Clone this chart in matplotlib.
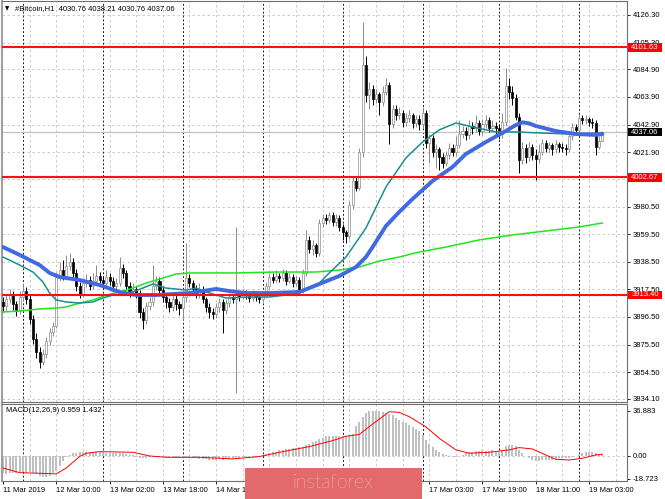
import numpy as np
import matplotlib
matplotlib.use("Agg")
import matplotlib.pyplot as plt
from matplotlib import patches, transforms

plt.rcParams["font.family"] = ["Liberation Sans", "DejaVu Sans"]

# --- Candles, H1 bars from 11 Mar 18:00 to 19 Mar 03:00 ---
opens = [
    3908, 3905, 3910, 3913, 3906, 3902, 3912, 3916, 3910, 3895,
    3880, 3870, 3862, 3868, 3878, 3885, 3890, 3927, 3932, 3928,
    3935, 3938, 3930, 3920, 3914, 3922, 3925, 3920, 3924, 3928,
    3925, 3922, 3927, 3924, 3920, 3922, 3934, 3930, 3920, 3916,
    3918, 3915, 3900, 3894, 3905, 3908, 3920, 3924, 3917, 3912,
    3908, 3904, 3910, 3906, 3903, 3912, 3926, 3922, 3918, 3914,
    3918, 3910, 3904, 3900, 3899, 3904, 3908, 3902, 3907, 3912,
    3910, 3914, 3912, 3915, 3913, 3911, 3914, 3912, 3910, 3913,
    3920, 3927, 3925, 3928, 3926, 3930, 3924, 3927, 3922, 3925,
    3917, 3930, 3955, 3948, 3951, 3945, 3968, 3972, 3970, 3974,
    3969, 3972, 3965, 3961, 3958, 3982, 4000, 3995, 4022, 4088,
    4065, 4070, 4062, 4066, 4060, 4068, 4073, 4043, 4055, 4050,
    4052, 4045, 4048, 4050, 4044, 4047, 4043, 4052, 4029, 4033,
    4022, 4024, 4018, 4014, 4020, 4025, 4022, 4027, 4036, 4038,
    4035, 4042, 4040, 4044, 4038, 4043, 4046, 4040, 4042, 4040,
    4036, 4045, 4072, 4068, 4063, 4049, 4016, 4025, 4018, 4026,
    4020, 4017, 4022, 4029, 4025, 4027, 4024, 4028, 4026, 4025,
    4024, 4034, 4041, 4039, 4048, 4046, 4047, 4045, 4044, 4026,
    4030.76,
]
closes = [
    3905, 3910, 3913, 3906, 3902, 3912, 3916, 3910, 3895, 3880,
    3870, 3862, 3868, 3878, 3885, 3890, 3927, 3932, 3928, 3935,
    3938, 3930, 3920, 3914, 3922, 3925, 3920, 3924, 3928, 3925,
    3922, 3927, 3924, 3920, 3922, 3934, 3930, 3920, 3916, 3918,
    3915, 3900, 3894, 3905, 3908, 3920, 3924, 3917, 3912, 3908,
    3904, 3910, 3906, 3903, 3912, 3926, 3922, 3918, 3914, 3918,
    3910, 3904, 3900, 3899, 3904, 3908, 3902, 3907, 3912, 3910,
    3914, 3912, 3915, 3913, 3911, 3914, 3912, 3910, 3913, 3920,
    3927, 3925, 3928, 3926, 3930, 3924, 3927, 3922, 3925, 3917,
    3930, 3955, 3948, 3951, 3945, 3968, 3972, 3970, 3974, 3969,
    3972, 3965, 3961, 3958, 3982, 4000, 3995, 4022, 4088, 4065,
    4070, 4062, 4066, 4060, 4068, 4073, 4043, 4055, 4050, 4052,
    4045, 4048, 4050, 4044, 4047, 4043, 4052, 4029, 4033, 4022,
    4024, 4018, 4014, 4020, 4025, 4022, 4027, 4036, 4038, 4035,
    4042, 4040, 4044, 4038, 4043, 4046, 4040, 4042, 4040, 4036,
    4045, 4072, 4068, 4063, 4049, 4016, 4025, 4018, 4026, 4020,
    4017, 4022, 4029, 4025, 4027, 4024, 4028, 4026, 4025, 4024,
    4034, 4041, 4039, 4048, 4046, 4047, 4045, 4044, 4026, 4030.76,
    4037.06,
]
highs = [
    3912, 3914, 3918, 3916, 3909, 3916, 3922, 3919, 3913, 3898,
    3884, 3874, 3872, 3881, 3888, 3893, 3931, 3938, 3940, 3944,
    3945, 3941, 3933, 3923, 3926, 3929, 3928, 3930, 3936, 3931,
    3928, 3932, 3930, 3927, 3926, 3942, 3937, 3932, 3923, 3922,
    3920, 3917, 3903, 3908, 3912, 3936, 3928, 3927, 3920, 3915,
    3911, 3913, 3913, 3909, 3915, 3953, 3929, 3925, 3921, 3922,
    3920, 3912, 3907, 3903, 3907, 3911, 3910, 3910, 3915, 3914,
    3965, 3916, 3918, 3917, 3915, 3917, 3916, 3914, 3916, 3923,
    3930, 3930, 3932, 3930, 3933, 3932, 3930, 3929, 3928, 3927,
    3933, 3963, 3958, 3955, 3953, 3971, 3975, 3975, 3976, 3976,
    3975, 3974, 3967, 3963, 3985, 4003, 4004, 4025, 4121, 4095,
    4075, 4073, 4070, 4068, 4072, 4078, 4075, 4058, 4058, 4056,
    4054, 4052, 4054, 4052, 4050, 4050, 4056, 4054, 4036, 4035,
    4028, 4026, 4021, 4023, 4029, 4028, 4034, 4046, 4042, 4041,
    4046, 4045, 4050, 4046, 4047, 4050, 4049, 4046, 4045, 4043,
    4052, 4086, 4078, 4072, 4066, 4052, 4030, 4028, 4030, 4028,
    4024, 4028, 4032, 4031, 4030, 4029, 4031, 4030, 4029, 4028,
    4037, 4044, 4043, 4051, 4050, 4050, 4049, 4048, 4046, 4034,
    4038.21,
]
lows = [
    3900, 3901, 3907, 3902, 3897, 3899, 3909, 3906, 3891, 3876,
    3865, 3858, 3860, 3865, 3875, 3882, 3888, 3924, 3925, 3925,
    3932, 3927, 3916, 3911, 3912, 3919, 3917, 3918, 3921, 3921,
    3918, 3920, 3921, 3916, 3917, 3920, 3926, 3917, 3912, 3913,
    3911, 3896, 3887, 3891, 3902, 3905, 3917, 3913, 3908, 3903,
    3900, 3901, 3902, 3898, 3894, 3908, 3919, 3914, 3911, 3911,
    3907, 3900, 3896, 3895, 3896, 3900, 3884, 3899, 3904, 3907,
    3839, 3909, 3910, 3910, 3908, 3909, 3909, 3907, 3908, 3911,
    3918, 3922, 3923, 3923, 3924, 3921, 3922, 3919, 3920, 3914,
    3915, 3928, 3945, 3944, 3942, 3943, 3965, 3967, 3968, 3966,
    3966, 3962, 3955, 3953, 3956, 3979, 3992, 3993, 4018, 4060,
    4055, 4058, 4059, 4050, 4057, 4065, 4028, 4040, 4046, 4047,
    4041, 4042, 4045, 4040, 4041, 4039, 4040, 4025, 4014, 4018,
    4010, 4008, 4010, 4011, 4017, 4019, 4019, 4025, 4033, 4031,
    4032, 4036, 4037, 4035, 4035, 4040, 4037, 4038, 4036, 4032,
    4033, 4042, 4062, 4058, 4046, 4006, 4013, 4014, 4015, 4016,
    4001, 4014, 4020, 4022, 4022, 4020, 4021, 4022, 4022, 4020,
    4022, 4031, 4035, 4037, 4043, 4043, 4042, 4040, 4020, 4024,
    4030.76,
]

# --- Moving averages (bar index, price) ---
slow_ma_bars = [0, 5, 11, 14, 17, 23, 29, 35, 40, 46, 56, 64, 68, 73, 80, 89, 95,
                101, 106, 109, 111, 115, 119, 123, 129, 135, 139, 145, 151, 154,
                156, 158, 160, 166, 172, 178, 180]
slow_ma_vals = [3949.7, 3943.7, 3936.0, 3930.0, 3926.9, 3924.6, 3920.8, 3915.5,
                3913.2, 3913.2, 3914.7, 3917.8, 3916.2, 3914.7, 3914.7, 3915.5,
                3921.6, 3927.7, 3934.5, 3942.1, 3949.7, 3965.7, 3976.4, 3986.3,
                4000.0, 4010.6, 4020.5, 4029.6, 4038.0, 4042.5, 4044.6, 4043.8,
                4041.8, 4038.0, 4035.7, 4035.0, 4035.7]
fast_ma_bars = [0, 5, 9, 12, 14, 16, 19, 23, 27, 30, 33, 36, 39, 42, 45, 49, 55,
                58, 61, 64, 67, 74, 80, 85, 89, 95, 98, 103, 109, 115, 121, 126,
                131, 136, 141, 148, 154, 161, 170, 180]
fast_ma_vals = [3942.1, 3936.0, 3930.7, 3923.1, 3914.7, 3909.4, 3907.9, 3907.1,
                3907.9, 3910.9, 3913.2, 3914.0, 3915.5, 3918.5, 3921.6, 3918.5,
                3917.0, 3918.5, 3915.5, 3913.2, 3910.9, 3911.7, 3911.7, 3913.2,
                3915.5, 3922.3, 3930.0, 3942.1, 3964.2, 3995.4, 4017.5, 4029.6,
                4038.8, 4044.1, 4041.1, 4037.3, 4037.3, 4036.5, 4035.7, 4036.5]
long_ma_bars = [0, 5, 11, 16, 19, 23, 27, 31, 35, 39, 43, 46, 49, 52, 56, 70, 82,
                94, 101, 107, 113, 119, 125, 133, 143, 153, 163, 173, 180]
long_ma_vals = [3900.3, 3901.0, 3902.6, 3903.3, 3904.1, 3907.1, 3909.4, 3913.2,
                3915.5, 3918.5, 3922.3, 3924.6, 3926.9, 3929.2, 3930.0, 3930.0,
                3930.7, 3930.7, 3932.2, 3934.5, 3939.1, 3942.1, 3945.9, 3949.7,
                3955.1, 3958.9, 3961.9, 3965.0, 3968.0]

# --- MACD(12,26,9) ---
macd_hist = [
    -14, -14.5, -14, -13.5, -14, -13, -13, -13.5, -13, -14,
    -15, -16.5, -17.5, -17, -16, -14, -12, -8, -4, -1,
    1, 2, 2.5, 3, 3.5, 3.5, 3.5, 3.5, 3.2, 3,
    3, 2.8, 2.5, 2.5, 2.2, 2.5, 2.2, 1.5, 1, 0.5,
    -0.5, -1.5, -2, -1.5, -1, -0.5, -0.8, -1, -1, -1,
    -1, -1, -1.2, -1.5, -1.5, -1, -1.5, -2, -2, -2.5,
    -2.5, -2.8, -3, -3, -3, -2.8, -3, -2.8, -2.5, -2.5,
    -2, -1.5, -1.2, -1, -0.8, -0.5, -0.5, 0, 0.5, 1.2,
    2, 3, 3.5, 4.5, 5, 5.5, 6, 6.2, 6.5, 7,
    7.5, 9, 10, 11, 12, 14, 15, 16, 16.5, 16.5,
    16.5, 16, 16, 16, 16.5, 18, 24, 28, 32, 35,
    36.5, 36.9, 36.9, 36.5, 36, 35, 34, 33, 31, 29.5,
    28, 27, 25, 23.5, 22, 20, 17, 13, 10, 7.5,
    5, 3, 1.5, 0.5, -0.5, -1, -0.5, 0, 1, 2,
    3, 3.5, 4, 4, 4.5, 4, 4, 4.5, 4, 3.5,
    5, 8, 9, 9, 8, 5, 2, 0, -2, -3,
    -4, -4, -3.5, -3, -3, -3, -2.5, -2, -2, -2,
    -1.5, -1, 0, 1, 2.5, 3, 3.5, 3, 2, 1.2,
    0.959,
]
signal_bars = [0, 5, 11, 16, 19, 23, 25, 29, 39, 44, 49, 59, 69, 77, 84, 92, 99,
               103, 107, 111, 116, 119, 122, 127, 131, 136, 140, 146, 152, 155,
               159, 163, 166, 170, 174, 178, 180]
signal_vals = [-9.8, -13.6, -14.1, -14.6, -9.8, -0.5, 2.2, 3.5, 3.0, 0.0, -1.1,
               -1.1, -2.4, -0.5, 3.5, 7.6, 12.5, 16.0, 17.5, 26.0, 36.0, 35.5,
               32.0, 23.7, 14.4, 5.0, 2.2, 3.0, 4.9, 6.8, 5.7, 0.8, -2.7, -3.3,
               -1.9, 0.8, 1.432]

# --- levels and axes text ---
red_levels = [4101.63, 4002.67, 3913.40]
last_price = 4037.06
price_ticks = [4126.30, 4105.30, 4084.90, 4063.90, 4042.90, 4021.90, 4001.20,
               3980.50, 3959.50, 3938.50, 3917.50, 3896.50, 3875.50, 3854.50,
               3834.10]
macd_ticks = [36.883, 0.0, -18.723]
macd_tick_labels = ["36.883", "0.00", "-18.723"]
day_sep_bars = [6, 30, 54, 78, 102, 126, 149, 173]
date_bars = [0, 16, 32, 48, 64, 80, 96, 112, 128, 144, 160, 176]
date_labels = ["11 Mar 2019", "12 Mar 10:00", "13 Mar 02:00", "13 Mar 18:00",
               "14 Mar 10:00", "15 Mar 02:00", "15 Mar 18:00", "16 Mar 10:00",
               "17 Mar 03:00", "17 Mar 19:00", "18 Mar 11:00", "19 Mar 03:00"]

W, H = 665, 499
fig = plt.figure(figsize=(W / 100, H / 100), dpi=100)
fig.patch.set_facecolor("white")


def px_box(x0, y0, x1, y1):
    return [x0 / W, 1 - y1 / H, (x1 - x0) / W, (y1 - y0) / H]


ax = fig.add_axes(px_box(2, 1, 627, 402))
ax2 = fig.add_axes(px_box(2, 404, 627, 481))

grid_gray = "#c4c4c4"
for a in (ax, ax2):
    a.set_xlim(-0.3, 187.4)
    a.set_facecolor("white")
    for s in a.spines.values():
        s.set_color("#6e6e6e")
        s.set_linewidth(0.8)
    a.spines["left"].set_color("#a0a0a0")
    a.spines["left"].set_linewidth(1.5)
    for b in np.arange(8, 188, 8):
        if b in day_sep_bars:
            continue
        a.axvline(b, color=grid_gray, lw=0.6, ls=(0, (3, 3)), zorder=1)
    for b in day_sep_bars:
        a.axvline(b, color="#202020", lw=0.7, ls=(0, (2, 2)), zorder=1.2)

# --- price panel ---
ax.set_ylim(3831.8, 4136.9)
for v in price_ticks:
    ax.axhline(v, color=grid_gray, lw=0.6, ls=(0, (3, 3)), zorder=1)
ax.axhline(last_price, color="#c0c0c0", lw=0.8, zorder=1.5)

bars = np.arange(len(closes))
o = np.array(opens, dtype=float)
c = np.array(closes, dtype=float)
hi = np.array(highs, dtype=float)
lo = np.array(lows, dtype=float)
up = c >= o
body_bottom = np.minimum(o, c)
body_h = np.maximum(np.abs(c - o), 0.6)

ax.vlines(bars[up], lo[up], hi[up], color="#8c8c8c", lw=0.7, zorder=3)
ax.vlines(bars[~up], lo[~up], hi[~up], color="black", lw=0.7, zorder=3)
ax.bar(bars[up], body_h[up], bottom=body_bottom[up], width=0.62,
       color="white", edgecolor="#8c8c8c", lw=0.5, zorder=4)
ax.bar(bars[~up], body_h[~up], bottom=body_bottom[~up], width=0.62,
       color="black", edgecolor="black", lw=0.5, zorder=4)

ax.plot(long_ma_bars, long_ma_vals, color="#1ee61e", lw=1.1, zorder=5)
ax.plot(fast_ma_bars, fast_ma_vals, color="#1b8f8f", lw=1.1, zorder=5)
ax.plot(slow_ma_bars, slow_ma_vals, color="#4169e1", lw=2.8, zorder=5,
        solid_capstyle="round", solid_joinstyle="round")

for lvl in red_levels:
    ax.axhline(lvl, color="#ff1010", lw=1.5, zorder=6)

ax.set_xticks([])
ax.yaxis.tick_right()
ax.set_yticks(price_ticks)
ax.set_yticklabels([f"{v:.2f}" for v in price_ticks])
ax.tick_params(axis="y", length=2.5, width=0.6, pad=1.5, labelsize=5.5,
               colors="black")

tr = transforms.blended_transform_factory(ax.transAxes, ax.transData)
box_x0, box_w, box_h = 1.0016, 0.0545, 6.4
for lvl, face in [(v, "#ff0000") for v in red_levels] + [(last_price, "black")]:
    ax.add_patch(patches.Rectangle((box_x0, lvl - box_h / 2), box_w, box_h,
                                   transform=tr, facecolor=face,
                                   edgecolor="none", clip_on=False, zorder=10))
    ax.text(box_x0 + box_w / 2, lvl, f"{lvl:.2f}", transform=tr, color="white",
            fontsize=5.5, ha="center", va="center", clip_on=False, zorder=11)

# --- MACD panel ---
ax2.set_ylim(-20.4, 42.3)
ax2.axhline(0, color=grid_gray, lw=0.6, ls=(0, (3, 3)), zorder=1)
ax2.bar(bars, macd_hist, width=0.6, color="#c0c0c0", zorder=2)
ax2.plot(signal_bars, signal_vals, color="#ff0000", lw=0.7, zorder=3)
ax2.yaxis.tick_right()
ax2.set_yticks(macd_ticks)
ax2.set_yticklabels(macd_tick_labels)
ax2.tick_params(axis="y", length=2.5, width=0.6, pad=1.5, labelsize=5.5,
                colors="black")
ax2.set_xticks(date_bars)
ax2.set_xticklabels(date_labels, ha="left")
ax2.tick_params(axis="x", length=2.5, width=0.6, pad=1.5, labelsize=5.5,
                colors="black")

# --- header texts ---
fig.text(5 / W, 1 - 8.5 / H, "\u25bc", fontsize=4, family="DejaVu Sans",
         va="center", ha="left")
fig.text(15 / W, 1 - 8.5 / H, "#Bitcoin,H1  4030.76 4038.21 4030.76 4037.06",
         fontsize=5.5, va="center", ha="left")
fig.text(6 / W, 1 - 410.7 / H, "MACD(12,26,9) 0.959 1.432", fontsize=5.5,
         va="center", ha="left")

# --- watermark logo ---
logo = patches.Rectangle((245 / W, -0.01), 177 / W, 31.5 / H + 0.01,
                         transform=fig.transFigure, facecolor="#e36a6a",
                         edgecolor="none", zorder=5)
fig.patches.append(logo)
fig.text(333 / W, 1 - 483 / H, "instaforex", color="white", fontsize=14,
         family=["Lato", "DejaVu Sans"], weight="light", ha="center",
         va="center", zorder=6)

fig.savefig("out.png", dpi=100)
